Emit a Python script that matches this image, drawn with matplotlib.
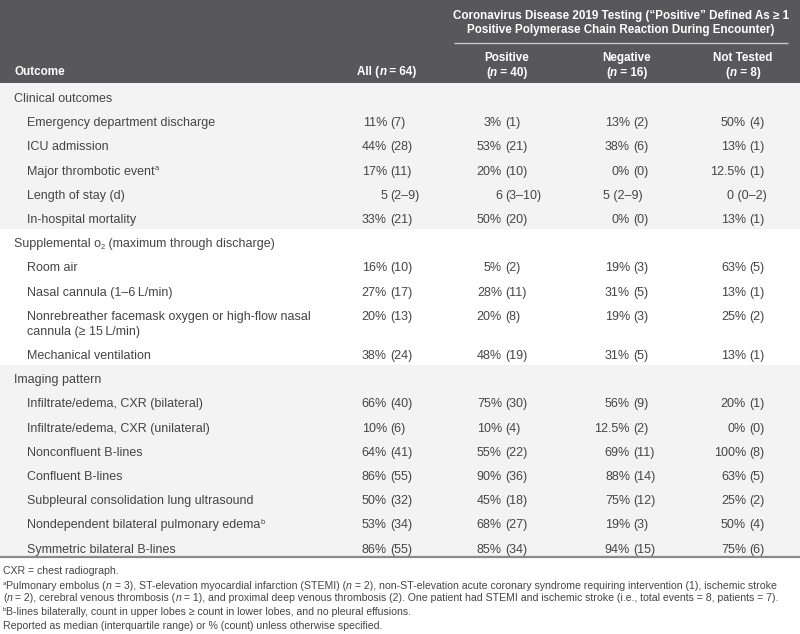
import matplotlib
matplotlib.use('Agg')
import matplotlib.pyplot as plt
from matplotlib.patches import Rectangle
from matplotlib.lines import Line2D

# ---------------- data ----------------
col_group_title = ['Coronavirus Disease 2019 Testing (\u201cPositive\u201d Defined As \u2265 1',
                   'Positive Polymerase Chain Reaction During Encounter)']
col_names = ['Positive', 'Negative', 'Not Tested']
col_n = ['40', '16', '8']
all_n = '64'

sections = ['Clinical outcomes', 'Supplemental o2 (maximum through discharge)', 'Imaging pattern']

clinical_labels = ['Emergency department discharge', 'ICU admission', 'Major thrombotic event',
                   'Length of stay (d)', 'In-hospital mortality']
clinical_all = ['11% (7)', '44% (28)', '17% (11)', '5 (2\u20139)', '33% (21)']
clinical_pos = ['3% (1)', '53% (21)', '20% (10)', '6 (3\u201310)', '50% (20)']
clinical_neg = ['13% (2)', '38% (6)', '0% (0)', '5 (2\u20139)', '0% (0)']
clinical_nt = ['50% (4)', '13% (1)', '12.5% (1)', '0 (0\u20132)', '13% (1)']
clinical_sup = ['', '', 'a', '', '']

oxygen_labels = ['Room air', 'Nasal cannula (1\u20136\u2009L/min)',
                 'Nonrebreather facemask oxygen or high-flow nasal\ncannula (\u2265 15\u2009L/min)',
                 'Mechanical ventilation']
oxygen_all = ['16% (10)', '27% (17)', '20% (13)', '38% (24)']
oxygen_pos = ['5% (2)', '28% (11)', '20% (8)', '48% (19)']
oxygen_neg = ['19% (3)', '31% (5)', '19% (3)', '31% (5)']
oxygen_nt = ['63% (5)', '13% (1)', '25% (2)', '13% (1)']
oxygen_sup = ['', '', '', '']

imaging_labels = ['Infiltrate/edema, CXR (bilateral)', 'Infiltrate/edema, CXR (unilateral)',
                  'Nonconfluent B-lines', 'Confluent B-lines',
                  'Subpleural consolidation lung ultrasound',
                  'Nondependent bilateral pulmonary edema', 'Symmetric bilateral B-lines']
imaging_all = ['66% (40)', '10% (6)', '64% (41)', '86% (55)', '50% (32)', '53% (34)', '86% (55)']
imaging_pos = ['75% (30)', '10% (4)', '55% (22)', '90% (36)', '45% (18)', '68% (27)', '85% (34)']
imaging_neg = ['56% (9)', '12.5% (2)', '69% (11)', '88% (14)', '75% (12)', '19% (3)', '94% (15)']
imaging_nt = ['20% (1)', '0% (0)', '100% (8)', '63% (5)', '25% (2)', '50% (4)', '75% (6)']
imaging_sup = ['', '', '', '', '', 'b', '']

footnotes = [
    [('CXR = chest radiograph.', 'n')],
    [('a', 's'), ('Pulmonary embolus (', 'n'), ('n', 'i'),
     (' = 3), ST-elevation myocardial infarction (STEMI) (', 'n'), ('n', 'i'),
     (' = 2), non-ST-elevation acute coronary syndrome requiring intervention (1), ischemic stroke', 'n')],
    [('(', 'n'), ('n', 'i'), (' = 2), cerebral venous thrombosis (', 'n'), ('n', 'i'),
     (' = 1), and proximal deep venous thrombosis (2). One patient had STEMI and ischemic stroke '
      '(i.e., total events = 8, patients = 7).', 'n')],
    [('b', 's'), ('B-lines bilaterally, count in upper lobes \u2265 count in lower lobes, and no pleural effusions.', 'n')],
    [('Reported as median (interquartile range) or % (count) unless otherwise specified.', 'n')],
]

# ---------------- figure ----------------
W, H, DPI = 800, 634, 100
fig = plt.figure(figsize=(W / DPI, H / DPI), dpi=DPI)
fig.patch.set_facecolor('white')
renderer = fig.canvas.get_renderer()
FAM = ['Liberation Sans', 'DejaVu Sans']
TXT = '#454545'
HDR_BG = '#58585a'
BAND = '#f3f3f3'
FS = 9.0
HFS = 8.4
FN_FS = 7.6


def fx(x):
    return x / W


def fy(y):
    return 1 - y / H


def rect(x0, y0, x1, y1, color):
    fig.patches.append(Rectangle((fx(x0), fy(y1)), (x1 - x0) / W, (y1 - y0) / H,
                                 transform=fig.transFigure, facecolor=color,
                                 edgecolor='none', zorder=0))


def hline(x0, x1, y, color, lw):
    fig.lines.append(Line2D([fx(x0), fx(x1)], [fy(y), fy(y)], transform=fig.transFigure,
                            color=color, linewidth=lw, solid_capstyle='butt'))


def adv(s, **kw):
    t = fig.text(0, 0, '|' + s + '|', **kw)
    w1 = t.get_window_extent(renderer).width
    t.remove()
    t = fig.text(0, 0, '||', **kw)
    w2 = t.get_window_extent(renderer).width
    t.remove()
    return w1 - w2


def txt(x, y, s, ha='left', size=FS, color=TXT, weight='normal', style='normal'):
    fig.text(fx(x), fy(y), s, ha=ha, va='baseline', fontsize=size, color=color,
             fontweight=weight, fontstyle=style, family=FAM)


def runs(x, y, parts, ha='left', size=FS, color=TXT, weight='normal'):
    """parts: list of (text, kind) kind in n(normal), i(italic), s(superscript), b(subscript)"""
    items = []
    for s, k in parts:
        kw = dict(fontsize=size, family=FAM, fontweight=weight, fontstyle='normal')
        dy = 0
        if k == 'i':
            kw['fontstyle'] = 'italic'
        elif k == 's':
            kw['fontsize'] = size * 0.6
            dy = -size * 0.5
        elif k == 'b':
            kw['fontsize'] = size * 0.6
            dy = size * 0.25
        items.append((s, kw, dy, adv(s, **kw)))
    total = sum(it[3] for it in items)
    if ha == 'center':
        px = x - total / 2
    elif ha == 'right':
        px = x - total
    else:
        px = x
    for s, kw, dy, w in items:
        fig.text(fx(px), fy(y + dy), s, ha='left', va='baseline', color=color, **kw)
        px += w


# ---------------- header ----------------
HDR_BOTTOM = 83
rect(0, 0, W, HDR_BOTTOM, HDR_BG)
GROUP_CX = 621
txt(GROUP_CX, 19, col_group_title[0], ha='center', color='white', weight='bold', size=HFS)
txt(GROUP_CX, 33, col_group_title[1], ha='center', color='white', weight='bold', size=HFS)
hline(454, 788, 43, '#c8c8c8', 1.0)

col_cx = [507, 627, 743]
for cx, name, n in zip(col_cx, col_names, col_n):
    txt(cx, 61, name, ha='center', color='white', weight='bold', size=HFS)
    runs(cx, 76, [('(', 'n'), ('n', 'i'), (' = ' + n + ')', 'n')], ha='center',
         color='white', weight='bold', size=HFS)
txt(14, 75, 'Outcome', color='white', weight='bold', size=HFS)
runs(387, 75, [('All (', 'n'), ('n', 'i'), (' = ' + all_n + ')', 'n')], ha='center',
     color='white', weight='bold', size=HFS)

# ---------------- body ----------------
STEP = 24.2
LINE2 = 15
SEC_X, ROW_X = 14, 27
BASE = 4  # baseline offset from visual centre
anchors = [387, 502, 630, 746]  # right edge of the leading number
GAP = 3.5

blocks = [
    (sections[0], clinical_labels, clinical_all, clinical_pos, clinical_neg, clinical_nt, clinical_sup),
    (sections[1], oxygen_labels, oxygen_all, oxygen_pos, oxygen_neg, oxygen_nt, oxygen_sup),
    (sections[2], imaging_labels, imaging_all, imaging_pos, imaging_neg, imaging_nt, imaging_sup),
]

band_colors = [BAND, 'white', BAND]
y = 98
layout = []
for bi, blk in enumerate(blocks):
    sec, labels, a, p, ng, nt, sup = blk
    top_y = y
    rows = []
    for i, lab in enumerate(labels):
        yy = y + STEP * (i + 1) + (LINE2 * sum(l.count('\n') for l in labels[:i]))
        rows.append(yy)
    layout.append((top_y, rows))
    y = rows[-1] + LINE2 * labels[-1].count('\n') + STEP

band_edges = [HDR_BOTTOM]
for bi in range(len(blocks) - 1):
    last = layout[bi][1][-1]
    nxt = layout[bi + 1][0]
    band_edges.append((last + nxt) / 2 - 2)
band_edges.append(556)
for bi in range(len(blocks)):
    rect(0, band_edges[bi], W, band_edges[bi + 1], band_colors[bi])

for bi, blk in enumerate(blocks):
    sec, labels, a, p, ng, nt, sup = blk
    top_y, rows = layout[bi]
    if 'o2' in sec:
        pre, post = sec.split('o2')
        runs(SEC_X, top_y + BASE, [(pre + 'o', 'n'), ('2', 'b'), (post, 'n')])
    else:
        txt(SEC_X, top_y + BASE, sec)
    for i, lab in enumerate(labels):
        yy = rows[i]
        lines = lab.split('\n')
        for li, line in enumerate(lines):
            if li == 0 and sup[i]:
                runs(ROW_X, yy + BASE, [(line, 'n'), (sup[i], 's')])
            else:
                txt(ROW_X, yy + BASE + li * LINE2, line)
        for ci, vals in enumerate([a, p, ng, nt]):
            v = vals[i]
            num, rest = v.split(' ', 1)
            if '%' not in v and ci == 2:
                txt(anchors[ci] - 27, yy + BASE, v)
            elif '%' not in v and ci == 3:
                txt(767, yy + BASE, v, ha='right')
            else:
                txt(anchors[ci], yy + BASE, num, ha='right')
                txt(anchors[ci] + GAP, yy + BASE, rest)

hline(0, W, 557, '#8a8a8a', 1.6)

# ---------------- footnotes ----------------
fn_y = [574, 589, 601, 615, 629]
for yy, parts in zip(fn_y, footnotes):
    runs(3, yy, parts, size=FN_FS)

fig.savefig('out.png', dpi=DPI, facecolor='white')
